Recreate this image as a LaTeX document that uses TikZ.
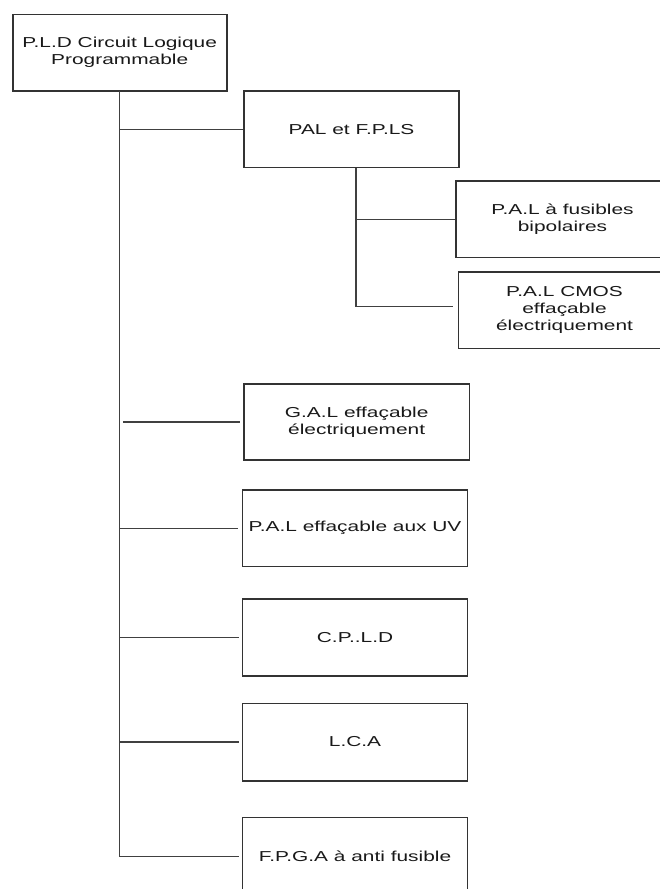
\documentclass[tikz,border=0pt]{standalone}
\usepackage{fontspec}
\setmainfont{Liberation Sans}[FakeStretch=1.45]
\usepackage{tikz}
\usetikzlibrary{positioning, calc}

\begin{document}
\begin{tikzpicture}[
    x=1pt, y=-1pt,
    font=\fontsize{14.4}{17}\selectfont,
    box/.style={rectangle, draw=black!80, line width=1.6pt, fill=white, text=black!90, align=center, inner sep=0pt, minimum width=225pt, minimum height=76.7pt},
    link/.style={draw=black!75, line width=1.5pt}
]
\useasboundingbox (0,0) rectangle (660,889);
\clip (0,0) rectangle (660,889);
\fill[white] (0,0) rectangle (660,889);

% Root
\node[box, minimum width=214pt, minimum height=76.4pt] (pld) at (119.7, 52.5) {P.L.D Circuit Logique\\Programmable};

% First branch and its children
\node[box, minimum width=215pt] (pal) at (351.5, 129.3) {PAL et F.P.LS};
\node[box, minimum width=213pt] (palfus) at (562.5, 219.3) {P.A.L à fusibles\\bipolaires};
\node[box, minimum width=212.4pt, minimum height=76.6pt] (palcmos) at (564.5, 310) {P.A.L CMOS\\effaçable\\électriquement};

% Other branches
\node[box, minimum width=225.3pt, minimum height=76pt] (gal) at (356.7, 422) {G.A.L effaçable\\électriquement};
\node[box] (paluv) at (355, 528.3) {P.A.L effaçable aux UV};
\node[box] (cpld) at (355, 637.4) {C.P..L.D};
\node[box, minimum height=77.4pt] (lca) at (355, 742) {L.C.A};
\node[box, minimum height=78.8pt] (fpga) at (355, 856.7) {F.P.G.A à anti fusible};

% Trunk
\coordinate (trunk) at (119.3, 90.7);
\draw[link] (trunk) -- (trunk |- fpga.west);
\draw[link] (trunk |- pal.west) -- (pal.west);
\draw[link, shorten <=4pt, shorten >=3pt] (trunk |- gal.west) -- (gal.west);
\draw[link, shorten >=4pt] (trunk |- paluv.west) -- (paluv.west);
\draw[link, shorten >=3pt] (trunk |- cpld.west) -- (cpld.west);
\draw[link, shorten >=3pt] (trunk |- lca.west) -- (lca.west);
\draw[link, shorten >=3pt] (trunk |- fpga.west) -- (fpga.west);

% Sub trunk
\coordinate (subtrunk) at (356, 167.7);
\draw[link] (subtrunk) -- ($(subtrunk |- palcmos.west)+(0,-3.3)$);
\draw[link] (subtrunk |- palfus.west) -- (palfus.west);
\draw[link, shorten >=5pt] ($(subtrunk |- palcmos.west)+(0,-3.3)$) -- ($(palcmos.west)+(0,-3.3)$);

\end{tikzpicture}
\end{document}
